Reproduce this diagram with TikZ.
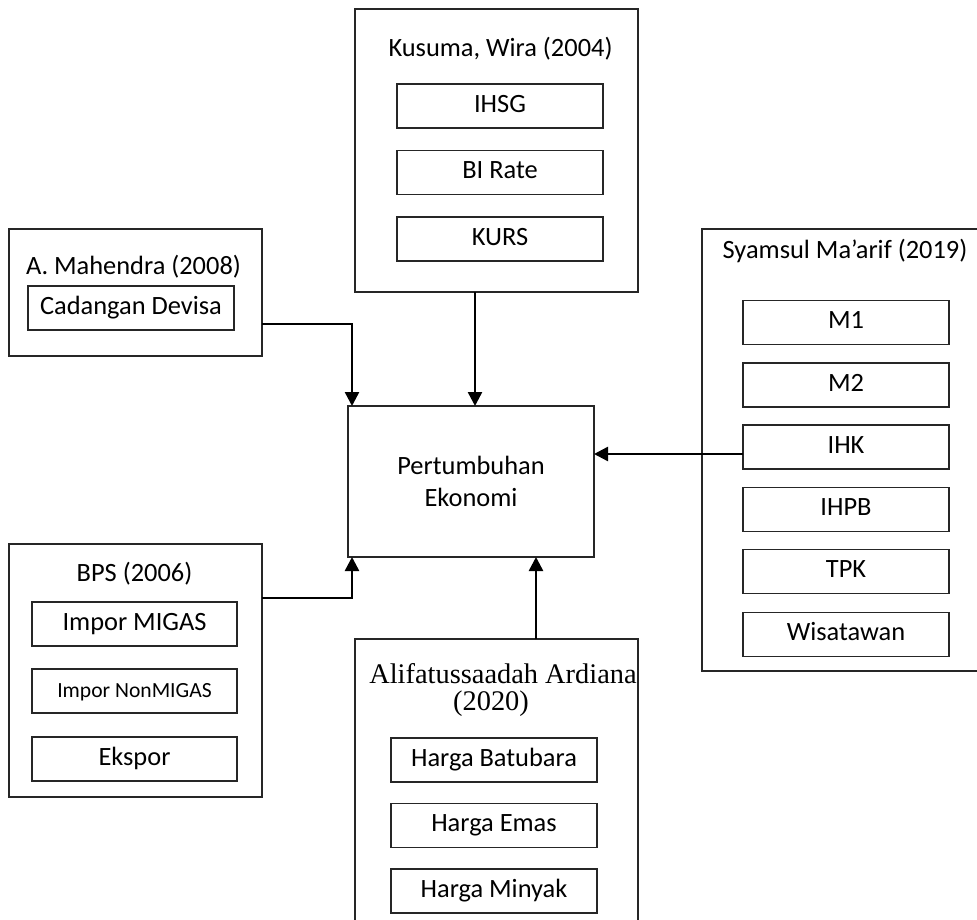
\documentclass[tikz,border=0pt]{standalone}
\usepackage{fontspec}
\setmainfont{Carlito}
\newfontfamily\serifttl{Liberation Serif}
\usetikzlibrary{arrows.meta}

\begin{document}
\begin{tikzpicture}[x=0.5pt,y=-0.5pt,
  every node/.style={inner sep=0pt, outer sep=0pt},
  group/.style args={#1/#2}{draw=black!85, line width=0.6pt,
    minimum width=#1, minimum height=#2},
  item/.style={draw=black!85, line width=0.6pt, minimum width=103pt,
    minimum height=22pt, font=\fontsize{13.2}{15}\selectfont,
    text height=0.644em, text depth=0pt},
  ttl/.style={font=\fontsize{13.2}{15}\selectfont, text height=0.644em, text depth=0pt},
  arr/.style={line width=1.25pt, line join=miter,
    -{Triangle[width=7pt,length=7pt]}}]

\useasboundingbox (0,0) rectangle (977,919);

% source groups
\node[group=141.5pt/141.5pt] (kus)  at (496.5,150.5) {};
\node[group=126.5pt/63.5pt]  (mah)  at (135.5,292.5) {};
\node[group=139pt/221pt]     (sya)  at (841,450) {};
\node[group=126.5pt/126.5pt] (bps)  at (135.5,670.5) {};
\node[group=141.5pt/143pt]   (alif) at (496.5,782) {};

% central variable
\node[group=123pt/75.5pt, align=center,
      font=\fontsize{13.2}{15.75}\selectfont] (pe) at (471,481.5)
      {Pertumbuhan\\Ekonomi};

% group titles
\node[ttl] (kust) at (500.5,50.5) {Kusuma, Wira (2004)};
\node[ttl] (maht) at (133.5,268.5) {A. Mahendra (2008)};
\node[ttl] (syat) at (845,252.5) {Syamsul Ma’arif (2019)};
\node[ttl] (bpst) at (134.5,575.5) {BPS (2006)};
\node[font=\serifttl\fontsize{14.2}{16}\selectfont, text height=0.662em, text depth=0pt]
  (alift) at (503,677) {Alifatussaadah Ardiana};
\node[font=\serifttl\fontsize{14.2}{16}\selectfont, text height=0.662em, text depth=0pt]
  (alify) at (491,704) {(2020)};

% Kusuma items
\node[item] (ihsg) at (500,106)   {IHSG};
\node[item] (bir)  at (500,172.5) {BI Rate};
\node[item] (kurs) at (500,239)   {KURS};

% Mahendra item
\node[item] (cad) at (131,308) {Cadangan Devisa};

% Syamsul items
\node[item] (m1)   at (846,322.5) {M1};
\node[item] (m2)   at (846,385)   {M2};
\node[item] (ihk)  at (846,447)   {IHK};
\node[item] (ihpb) at (846,509.5) {IHPB};
\node[item] (tpk)  at (846,571.5) {TPK};
\node[item] (wis)  at (846,634.5) {Wisatawan};

% BPS items
\node[item, minimum width=102.5pt] (imig) at (134.5,624) {Impor MIGAS};
\node[item, minimum width=102.5pt, font=\fontsize{10.8}{13}\selectfont] (inon) at (134.5,691) {Impor NonMIGAS};
\node[item, minimum width=102.5pt] (eks)  at (134.5,759) {Ekspor};

% Alifatussaadah items
\node[item] (hbat) at (494,760)   {Harga Batubara};
\node[item] (hem)  at (494,825.5) {Harga Emas};
\node[item] (hmin) at (494,891)   {Harga Minyak};

% connectors into the central variable
\draw[arr] ([yshift=-15.75pt]mah.east) -| ([xshift=2pt]pe.north west);
\draw[arr] ([xshift=-10.75pt]kus.south) -- ([xshift=-10.75pt]kus.south |- pe.north);
\draw[arr] ([yshift=-3.5pt]ihk.west) -- ([yshift=-3.5pt]ihk.west -| pe.east);
\draw[arr] ([yshift=36.25pt]bps.east) -| ([xshift=2pt]pe.south west);
\draw[arr] ([xshift=19.75pt]alif.north) -- ([xshift=19.75pt]alif.north |- pe.south);

\end{tikzpicture}
\end{document}
